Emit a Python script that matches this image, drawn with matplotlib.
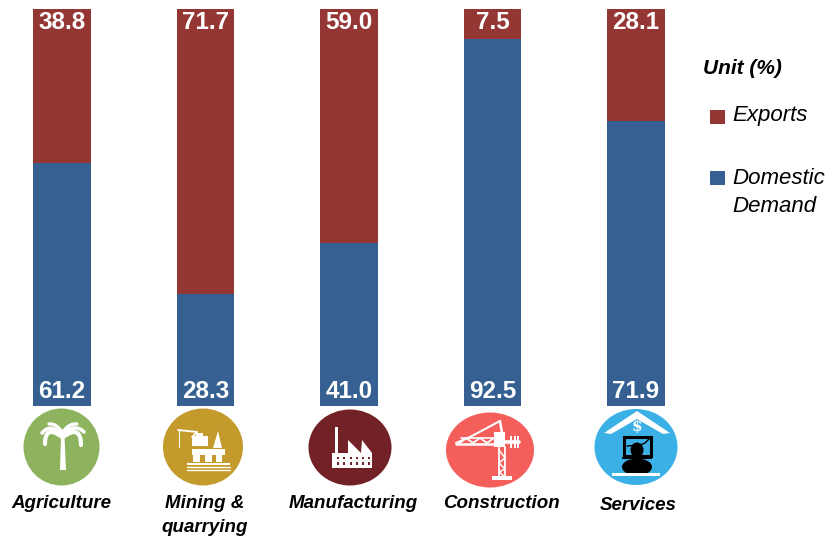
import matplotlib
matplotlib.use("Agg")
import matplotlib.pyplot as plt
from matplotlib.patches import Ellipse, Polygon, Rectangle, PathPatch
from matplotlib.path import Path

plt.rcParams['font.family'] = ['Liberation Sans', 'DejaVu Sans']

sectors = ["Agriculture", "Mining &\nquarrying", "Manufacturing", "Construction", "Services"]
domestic = [61.2, 28.3, 41.0, 92.5, 71.9]
exports = [38.8, 71.7, 59.0, 7.5, 28.1]
legend_labels = ["Exports", "Domestic\nDemand"]
unit_title = "Unit (%)"

RED = "#943634"
BLUE = "#376092"
SKY = "#3BB0E6"
W, H = 825, 537

fig = plt.figure(figsize=(8.25, 5.37), dpi=100)
ax = fig.add_axes([0, (537 - 406) / H, 1, (406 - 9) / H])
step = 143.5
x0 = 61.9
ax.set_xlim(-x0 / step, (W - x0) / step)
ax.set_ylim(0, 100)
ax.axis("off")
xs = list(range(len(sectors)))
bw = 57.5 / step
ax.bar(xs, domestic, width=bw, color=BLUE)
ax.bar(xs, exports, width=bw, bottom=domestic, color=RED)
for x, d, e in zip(xs, domestic, exports):
    ax.text(x, 3.7, f"{d:.1f}", ha="center", va="center", color="white", fontsize=17.5, fontweight="bold")
    ax.text(x, 100 - 3.4, f"{e:.1f}", ha="center", va="center", color="white", fontsize=17.5, fontweight="bold")

ov = fig.add_axes([0, 0, 1, 1], facecolor="none")
ov.set_xlim(0, W)
ov.set_ylim(H, 0)
ov.axis("off")


def rect(x, y, w, h, c="white"):
    ov.add_patch(Rectangle((x, y), w, h, fc=c, ec="none"))


def line(px, py, c="white", lw=1.2):
    ov.plot(px, py, color=c, lw=lw, solid_capstyle="round")


def curve(p0, p1, p2, lw=2.5):
    ov.add_patch(PathPatch(Path([p0, p1, p2], [Path.MOVETO, Path.CURVE3, Path.CURVE3]),
                           fc="none", ec="white", lw=lw, capstyle="round"))


# icon discs
ov.add_patch(Ellipse((61.5, 447), 76, 77, fc="#8DB35F", ec="none"))
ov.add_patch(Ellipse((203, 447), 80, 77, fc="#C49A2C", ec="none"))
ov.add_patch(Ellipse((350, 447.5), 83, 76, fc="#722226", ec="none"))
ov.add_patch(Ellipse((490, 450), 88, 75, fc="#F45F5C", ec="none"))
ov.add_patch(Ellipse((636, 447), 83, 76, fc=SKY, ec="none"))

# palm
ov.add_patch(Polygon([(60, 470), (66, 470), (64.5, 436), (61, 436)], fc="white", ec="none"))
curve((62, 437), (45, 424), (45, 444), 3)
curve((63, 437), (81, 424), (81, 445), 3)
curve((62, 434), (50, 423), (42, 433), 2.6)
curve((63, 434), (75, 423), (84, 432), 2.6)
curve((62, 432), (56, 423), (49, 424), 2.4)
curve((63, 432), (69, 423), (77, 424), 2.4)

# oil platform
rect(192, 449, 33, 6)
rect(193, 455, 7, 7)
rect(205, 455, 7, 7)
rect(216, 455, 6, 7)
rect(187, 463, 43, 2.2)
for y in (467, 469.5):
    line((187, 230), (y, y), lw=1.0)
rect(192, 436, 16, 10)
rect(196, 433, 7, 4)
ov.add_patch(Polygon([(213, 448), (222, 448), (218, 431)], fc="white", ec="none"))
line((178, 197), (430, 432), lw=1.3)
line((179, 179), (430, 447), lw=0.8)
line((197, 192), (432, 437), lw=1.2)

# factory
rect(334.5, 427, 3.5, 28)
ov.add_patch(Polygon([(332, 468), (332, 453), (348, 453), (348, 440), (361, 453), (362, 440), (372, 453),
                      (372, 468)], fc="white", ec="none"))
for y in (456.5, 462):
    for x in (338, 344, 351, 357, 363, 369):
        rect(x - 1.4, y, 2.8, 2.8, "#722226")

# crane
line((456, 497), (444, 444), lw=1.8)
line((456, 470, 500), (443, 437, 421), lw=1.5)
line((460, 466, 473, 480, 487, 494), (443, 438, 443, 438, 443, 438), lw=1.3)
line((461, 495), (438, 438), lw=1.2)
line((500, 502), (421, 433), lw=1.8)
rect(494, 432, 11, 15)
line((498.5, 498.5), (447, 478), lw=1.3)
line((505, 505), (447, 478), lw=1.3)
line((499, 505, 499, 505, 499, 505), (450, 458, 463, 469, 472, 477), lw=1.1)
line((505, 519), (442, 442), lw=2.6)
rect(510, 436, 2, 12)
rect(514, 436, 2, 12)
rect(517, 436, 2, 12)
rect(492, 476, 20, 4)

# services
ov.add_patch(Polygon([(604, 433), (637, 411), (670, 433), (663, 434), (637, 419), (611, 434)], fc="white", ec="none"))
ov.text(637, 427, "$", ha="center", va="center", color="white", fontsize=11, fontweight="bold", family="DejaVu Serif")
ov.add_patch(Rectangle((624, 437), 27, 19, fc=SKY, ec="black", lw=2.2))
ov.add_patch(Ellipse((637, 450), 13, 15, fc="black", ec="none"))
ov.add_patch(Ellipse((637, 467), 30, 17, fc="black", ec="none"))
rect(622, 457, 30, 1.6, "black")
line((627, 640, 645, 650), (446, 445, 443, 438), c="black", lw=1)
rect(612, 473, 48, 3)

# sector labels
label_xy = [(61.5, 503), None, (353, 503), (501.5, 503), (638, 505)]
for xy, s in zip(label_xy, sectors):
    if xy is None:
        continue
    ov.text(xy[0], xy[1], s, ha="center", va="center", color="black",
            fontsize=13.5, fontweight="bold", style="italic")
ov.text(205, 515.5, sectors[1], ha="center", va="center", color="black", fontsize=13.5,
        fontweight="bold", style="italic", linespacing=1.5)

# legend
ov.text(703, 68, unit_title, ha="left", va="center", fontsize=15, fontweight="bold", style="italic", color="black")
rect(710, 110, 15, 14, RED)
rect(710, 171, 15, 14, BLUE)
ov.text(732, 115, legend_labels[0], ha="left", va="center", fontsize=16, style="italic", color="black")
ov.text(732, 192.5, legend_labels[1], ha="left", va="center", fontsize=16, style="italic", color="black",
        linespacing=1.45)

fig.savefig("out.png", dpi=100)
